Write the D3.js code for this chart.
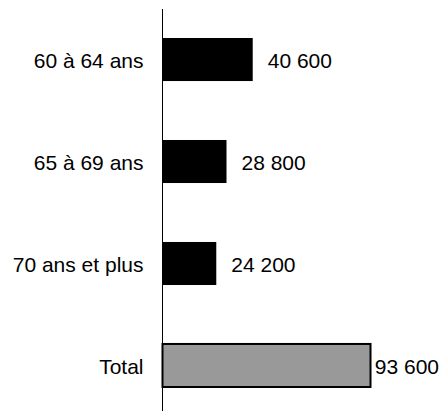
<!DOCTYPE html>
<html>
<head>
<meta charset="utf-8">
<script src="https://cdn.jsdelivr.net/npm/d3@7"></script>
<style>
  html, body { margin: 0; padding: 0; background: #fff; }
  svg { display: block; }
  text { font-family: "Liberation Sans", Arial, sans-serif; font-size: 21px; fill: #000; }
</style>
</head>
<body>
<svg id="chart" width="447" height="411"></svg>
<script>
// Age groups and their counts
const categories = ["60 à 64 ans", "65 à 69 ans", "70 ans et plus", "Total"];
const values = [40600, 28800, 24200, 93600];
const valueLabels = ["40 600", "28 800", "24 200", "93 600"];
const barFills = ["#000000", "#000000", "#000000", "#999999"];

const svg = d3.select("#chart");
const axisX = 162.5;
const labelRightLimit = 439;

const x = d3.scaleLinear().domain([0, 93600]).range([axisX, axisX + 208]);
const y = d3.scaleBand()
  .domain(categories)
  .range([7.4, 417.6])
  .paddingInner(0.578)
  .paddingOuter(0.3);

const rows = categories.map((c, i) => ({ c, v: values[i], label: valueLabels[i], fill: barFills[i] }));

// bars
svg.selectAll("rect.bar").data(rows).enter().append("rect")
  .attr("class", "bar")
  .attr("x", axisX)
  .attr("y", d => y(d.c))
  .attr("width", d => x(d.v) - axisX)
  .attr("height", y.bandwidth())
  .attr("fill", d => d.fill)
  .attr("stroke", d => d.fill === "#000000" ? "none" : "#000")
  .attr("stroke-width", 2);

// vertical axis line
svg.append("line")
  .attr("x1", axisX).attr("x2", axisX)
  .attr("y1", 9).attr("y2", 411)
  .attr("stroke", "#000").attr("stroke-width", 1);

// category labels
svg.selectAll("text.cat").data(rows).enter().append("text")
  .attr("class", "cat")
  .attr("x", axisX - 19)
  .attr("y", d => y(d.c) + y.bandwidth() / 2 + 8.2)
  .attr("text-anchor", "end")
  .text(d => d.c);

// value labels, kept inside the right edge
svg.selectAll("text.val").data(rows).enter().append("text")
  .attr("class", "val")
  .attr("y", d => y(d.c) + y.bandwidth() / 2 + 8.8)
  .text(d => d.label)
  .attr("x", function (d) {
    const w = this.getComputedTextLength();
    return Math.min(x(d.v) + 15, labelRightLimit - w);
  });
</script>
</body>
</html>
